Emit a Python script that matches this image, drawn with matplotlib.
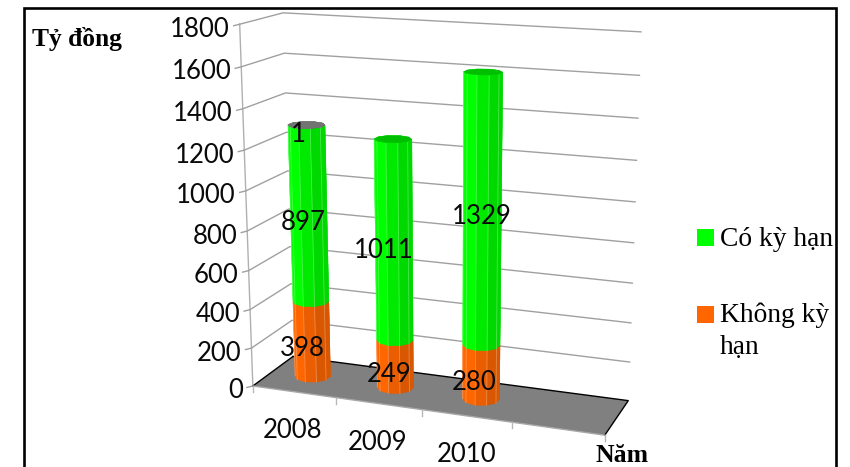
import numpy as np
import matplotlib
matplotlib.use("Agg")
import matplotlib.pyplot as plt
from matplotlib.patches import Rectangle

# ---- chart data ----
years = ["2008", "2009", "2010"]
khong_ky_han = [398, 249, 280]
co_ky_han = [897, 1011, 1329]
cap_series = [1, 0, 0]
value_ticks = [0, 200, 400, 600, 800, 1000, 1200, 1400, 1600, 1800]
n_slots = 4  # the last, empty slot carries the "Năm" axis caption

# ---- camera calibration: (slot, depth, value) -> canvas pixel ----
world_pts = np.array([
    [0, 0, 0], [4, 0, 0], [4, 1, 0], [0, 1, 0],
    [0, 0, 1800], [0, 1, 1800], [4, 1, 1800],
    [0, 0, 1000], [0, 1, 1000], [4, 1, 1000],
    [1, 0, 0], [3, 0, 0],
], dtype=float)
pixel_pts = np.array([
    [253, 386], [605, 435], [628, 401], [293, 356],
    [240, 25], [283, 12], [641, 32],
    [245, 190], [288, 172], [635, 201.5],
    [335.7, 398], [511.7, 422],
], dtype=float)


def fit_camera(world, pixel):
    rows = []
    for (x, z, v), (u, w) in zip(world, pixel):
        X = [x, z, v / 1000.0, 1.0]
        rows.append(X + [0, 0, 0, 0] + [-u * c for c in X])
        rows.append([0, 0, 0, 0] + X + [-w * c for c in X])
    _, _, vt = np.linalg.svd(np.array(rows))
    return vt[-1].reshape(3, 4)


CAM = fit_camera(world_pts, pixel_pts)


def project(x, z, v):
    x, z, v = np.broadcast_arrays(x, z, v)
    X = np.stack([x, z, v / 1000.0, np.ones_like(x, dtype=float)], axis=-1)
    h = X @ CAM.T
    return h[..., 0] / h[..., 2], h[..., 1] / h[..., 2]


fig = plt.figure(figsize=(8.5, 4.67), dpi=100)
ax = fig.add_axes([0, 0, 1, 1])
ax.set_xlim(0, 850)
ax.set_ylim(467, 0)
ax.axis("off")

SANS = "Lato"
SERIF = "Liberation Serif"
GRID = "#a0a0a0"
SANS_SIZE = 18.5
DY = 2.0  # optical centring of the sans labels

# outer frame, open at the bottom
ax.plot([24, 24, 836, 836], [467, 8, 8, 467], color="black", lw=1.9,
        solid_joinstyle="miter", zorder=1)

# wall gridlines
for v in value_ticks[1:]:
    px, py = project(np.array([0, 0, 4.0]), np.array([0, 1, 1.0]), float(v))
    ax.plot(px, py, color=GRID, lw=1.0, zorder=2)

# value axis, ticks and labels
ax_x, ax_y = project(np.array([0.0, 0.0]), np.array([0.0, 0.0]), np.array([0.0, 1800.0]))
ax.plot(ax_x, ax_y, color="#b0b0b0", lw=1.0, zorder=2)
for v in value_ticks:
    tx, ty = project(0.0, 0.0, float(v))
    ax.plot([tx - 6, tx], [ty + 1.5, ty], color=GRID, lw=1.0, zorder=2)
    ax.text(tx - 10, ty + 3 + DY, str(v), ha="right", va="center", fontsize=SANS_SIZE,
            family=SANS, color="#0a0a0a", zorder=9)

# floor
corners_x = np.array([0, 4, 4, 0.0])
corners_z = np.array([0, 0, 1, 1.0])
fx, fy = project(corners_x, corners_z, 0.0)
ax.fill(fx, fy, color="#808080", lw=0, zorder=3)
ax.plot([fx[3], fx[0]], [fy[3], fy[0]], color="black", lw=1.0, zorder=3)
ax.plot([fx[3], fx[2], fx[1]], [fy[3], fy[2], fy[1]], color="black", lw=1.0, zorder=3)
ax.plot(fx[:2], fy[:2], color="#a8a8a8", lw=1.0, zorder=3)
for i in range(n_slots + 1):
    tx, ty = project(float(i), 0.0, 0.0)
    ax.plot([tx, tx], [ty, ty + 6], color="#b8b8b8", lw=1.0, zorder=3)

# ---- stacked prisms ----
N_SIDES = 10
RX, RZ = 0.2, 0.19
ANGLES = np.deg2rad(np.arange(N_SIDES + 1) * 360.0 / N_SIDES + 18)


def draw_prism(slot, v0, v1, rgb, cap_rgb, z):
    cx = slot + 0.49
    xs = cx + RX * np.cos(ANGLES)
    zs = 0.5 + RZ * np.sin(ANGLES)
    bx, by = project(xs, zs, float(v0))
    tx, ty = project(xs, zs, float(v1))
    mids = (ANGLES[:-1] + ANGLES[1:]) / 2
    order = np.argsort(-np.sin(mids))  # far sides first
    for k in order:
        nx = np.cos(mids[k])
        shade = 1.0 if nx < 0.1 else 1.0 - 0.15 * min(1.0, nx + 0.25)
        col = tuple(c * shade for c in rgb)
        ax.fill([bx[k], bx[k + 1], tx[k + 1], tx[k]],
                [by[k], by[k + 1], ty[k + 1], ty[k]],
                color=col, lw=0.3, zorder=z)
    for k in range(N_SIDES):
        if np.sin(ANGLES[k]) < 0:
            ax.plot([bx[k], tx[k]], [by[k], ty[k]], color=(1, 1, 1, 0.3),
                    lw=0.6, zorder=z + 0.1)
    if cap_rgb is not None:
        ax.fill(tx, ty, color=cap_rgb, lw=0.3, zorder=z + 0.2)


ORANGE = (1.0, 0.4, 0.0)
GREEN = (0.0, 1.0, 0.0)
for i in range(len(years)):
    a = khong_ky_han[i]
    b = a + co_ky_han[i]
    c = b + cap_series[i]
    draw_prism(i, 0, a, ORANGE, None, 4 + i)
    has_cap = cap_series[i] > 0
    draw_prism(i, a, b, GREEN, None if has_cap else (0, 0.75, 0), 4.3 + i)
    if has_cap:
        draw_prism(i, b, c, (0.5, 0.5, 0.5), (0.45, 0.45, 0.45), 4.6 + i)

# data labels
label_font = dict(ha="center", va="center", fontsize=SANS_SIZE, family=SANS,
                  color="#0a0a0a", zorder=10)
ax.text(298, 132 + DY, str(cap_series[0]), **label_font)
for s, xy in zip(co_ky_han, [(303, 220), (384, 248), (482, 215)]):
    ax.text(xy[0], xy[1] + DY, str(s), **label_font)
for s, xy in zip(khong_ky_han, [(302, 347), (389, 372), (474, 381)]):
    ax.text(xy[0], xy[1] + DY, str(s), **label_font)

# category labels
for name, xy in zip(years, [(293, 429), (378, 441), (467, 453)]):
    ax.text(xy[0], xy[1] + DY, name, ha="center", va="center", fontsize=SANS_SIZE,
            family=SANS, color="#0a0a0a", zorder=10)

# axis captions
ax.text(622, 455, "Năm", ha="center", va="center", fontsize=18.5, family=SERIF,
        fontweight="bold", color="black", zorder=10)
ax.text(77, 39, "Tỷ đồng", ha="center", va="center", fontsize=18.4, family=SERIF,
        fontweight="bold", color="black", zorder=10)

# legend
ax.add_patch(Rectangle((697, 229), 17, 17, facecolor="#00ff00", edgecolor="none", zorder=10))
ax.add_patch(Rectangle((697, 306), 17, 17, facecolor="#ff6600", edgecolor="none", zorder=10))
legend_font = dict(ha="left", va="center", fontsize=19.8, family=SERIF, color="black", zorder=10)
ax.text(720, 239, "Có kỳ hạn", **legend_font)
ax.text(720, 315, "Không kỳ", **legend_font)
ax.text(720, 348, "hạn", **legend_font)

fig.savefig("out.png", dpi=100)
